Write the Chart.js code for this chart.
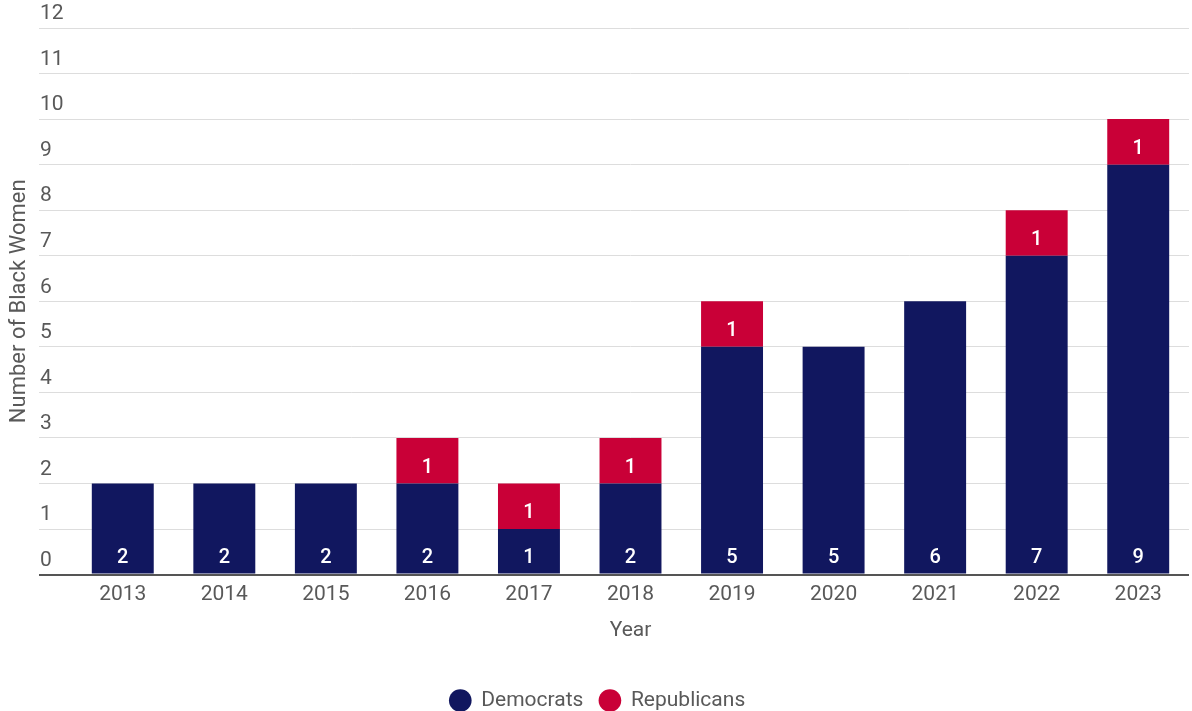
<!DOCTYPE html>
<html>
<head>
<meta charset="utf-8">
<script src="https://cdn.jsdelivr.net/npm/chart.js@4.4.1/dist/chart.umd.min.js"></script>
<style>
  html, body { margin: 0; padding: 0; background: #fff; }
  #wrap { width: 1192px; height: 711px; position: relative; }
</style>
</head>
<body>
<div id="wrap"><canvas id="c"></canvas></div>
<script>
const years = ['2013','2014','2015','2016','2017','2018','2019','2020','2021','2022','2023'];
const democrats = [2, 2, 2, 2, 1, 2, 5, 5, 6, 7, 9];
const republicans = [0, 0, 0, 1, 1, 1, 1, 0, 0, 1, 1];
const yTitle = 'Number of Black Women';
const xTitle = 'Year';

const NAVY = '#11175f';
const RED = '#c90037';
const TEXT = '#595959';
const FONT = 'Roboto';

const segmentLabels = {
  id: 'segmentLabels',
  afterDatasetsDraw(chart) {
    const ctx = chart.ctx;
    ctx.save();
    ctx.font = '500 20px ' + FONT;
    ctx.fillStyle = '#ffffff';
    ctx.textAlign = 'center';
    ctx.textBaseline = 'middle';
    chart.data.datasets.forEach((ds, di) => {
      const meta = chart.getDatasetMeta(di);
      meta.data.forEach((el, i) => {
        const v = ds.data[i];
        if (!v) return;
        ctx.fillText(String(v), el.x, el.base - 16);
      });
    });
    ctx.restore();
  }
};

const legendTrim = {
  id: 'legendTrim',
  afterInit(chart) {
    const lg = chart.legend;
    if (!lg) return;
    const orig = lg.fit;
    lg.fit = function () { orig.call(this); this.height -= 10; };
  }
};

new Chart(document.getElementById('c'), {
  type: 'bar',
  data: {
    labels: years,
    datasets: [
      { label: 'Democrats', data: democrats, backgroundColor: NAVY, borderWidth: 0,
        categoryPercentage: 0.61, barPercentage: 1 },
      { label: 'Republicans', data: republicans, backgroundColor: RED, borderWidth: 0,
        categoryPercentage: 0.61, barPercentage: 1 }
    ]
  },
  options: {
    responsive: true,
    maintainAspectRatio: false,
    animation: false,
    layout: { padding: { left: 6, right: 3, top: 28, bottom: 0 } },
    plugins: {
      tooltip: { enabled: false },
      legend: {
        position: 'bottom',
        labels: {
          usePointStyle: true,
          pointStyle: 'circle',
          boxWidth: 21,
          boxHeight: 16,
          padding: 16,
          color: TEXT,
          font: { family: FONT, size: 21 }
        }
      }
    },
    scales: {
      x: {
        stacked: true,
        grid: { display: false, drawTicks: false },
        border: { display: false },
        ticks: { color: TEXT, font: { family: FONT, size: 21 }, padding: 8 },
        title: { display: true, text: xTitle, color: TEXT, font: { family: FONT, size: 21 }, padding: { top: 2, bottom: 31 } }
      },
      y: {
        stacked: true,
        min: 0,
        max: 12,
        afterFit(scale) { scale.width = 66; },
        grid: {
          color: (c) => (c.tick && c.tick.value === 0) ? '#555555' : '#dddddd',
          lineWidth: (c) => (c.tick && c.tick.value === 0) ? 2 : 1,
          tickLength: 33,
          drawTicks: true
        },
        border: { display: false },
        ticks: {
          stepSize: 1,
          mirror: true,
          padding: -32,
          labelOffset: -14,
          color: TEXT,
          font: { family: FONT, size: 21 }
        },
        title: { display: true, text: yTitle, color: TEXT, font: { family: FONT, size: 22 }, padding: { top: 0, bottom: 0 } }
      }
    }
  },
  plugins: [segmentLabels, legendTrim]
});
</script>
</body>
</html>
